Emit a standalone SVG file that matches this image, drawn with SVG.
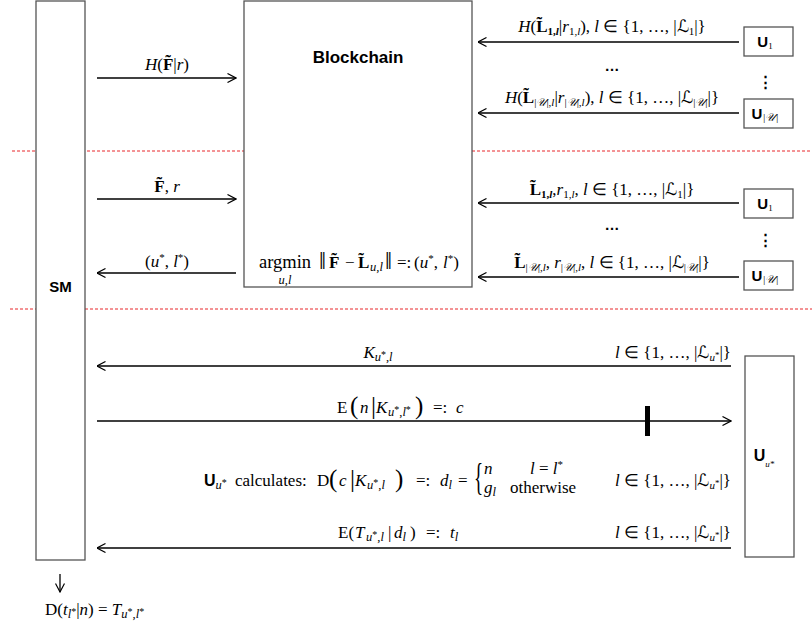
<svg xmlns="http://www.w3.org/2000/svg" width="812" height="629" viewBox="0 0 812 629">
<style>
.box{fill:#fff;stroke:#555;stroke-width:1.3}
.ln{stroke:#000;stroke-width:1.3;fill:none}
.sep{stroke:#e8262b;stroke-width:1;stroke-dasharray:3,2;fill:none}
.hd{font-family:"Liberation Sans",Arial,sans-serif;font-weight:bold;fill:#000}
.m{font-family:"Liberation Serif","Times New Roman",serif;font-size:17px;fill:#000}
.i{font-style:italic}
.b{font-weight:bold}
.s{font-size:11px}
.s2{font-size:12.5px}
.ss{font-size:9px}
.ss2{font-size:10px}
.big{font-size:25px}
</style>
<defs>
<marker id="ah" viewBox="0 0 10 10" refX="9.5" refY="5" markerWidth="10" markerHeight="10" markerUnits="userSpaceOnUse" orient="auto">
<path d="M1,0.5 L9.5,5 L1,9.5" fill="none" stroke="#000" stroke-width="1.2"/>
</marker>
</defs>
<rect width="812" height="629" fill="#fff"/>

<g id="separators">
<line class="sep" x1="12" y1="151" x2="812" y2="151"/>
<line class="sep" x1="10" y1="309" x2="812" y2="309"/>
</g>

<g id="SM">
<rect class="box" x="36" y="1" width="49" height="559"/>
<text class="hd" x="60.5" y="292" font-size="15" text-anchor="middle">SM</text>
</g>

<g id="Blockchain">
<rect class="box" x="244" y="1" width="228" height="286"/>
<text class="hd" x="358" y="63" font-size="17" text-anchor="middle">Blockchain</text>
<text class="m" y="268"><tspan x="259" style="font-size:18.5px">argmin</tspan><tspan x="319" class="big" dy="1">‖</tspan><tspan x="329" class="b" dy="-1">F̃</tspan><tspan x="345">−</tspan><tspan x="358" class="b">L̃</tspan><tspan class="s2 i" x="370" dy="3">u,l</tspan><tspan x="385" class="big" dy="-2">‖</tspan><tspan x="397" dy="-1">=:</tspan><tspan x="414">(</tspan><tspan class="i">u</tspan><tspan class="s" dy="-6">*</tspan><tspan dy="6">,</tspan><tspan x="443" class="i">l</tspan><tspan class="s" dy="-6">*</tspan><tspan dy="6">)</tspan></text>
<text class="m s2 i" x="285" y="284" text-anchor="middle">u,l</text>
</g>

<g id="U1_top">
<rect class="box" x="744" y="27" width="49" height="29"/>
<text x="765" y="47" text-anchor="middle"><tspan class="hd" font-size="15">U</tspan><tspan class="m ss" dy="2">1</tspan></text>
</g>
<g id="dots_top">
<text class="hd" x="765" y="87" font-size="15" text-anchor="middle">⋮</text>
</g>
<g id="UU_top">
<rect class="box" x="744" y="99" width="49" height="29"/>
<text x="765" y="119" text-anchor="middle"><tspan class="hd" font-size="15">U</tspan><tspan class="m s i" dy="2">|𝒰|</tspan></text>
</g>

<g id="U1_mid">
<rect class="box" x="744" y="189" width="49" height="29"/>
<text x="765" y="209" text-anchor="middle"><tspan class="hd" font-size="15">U</tspan><tspan class="m ss" dy="2">1</tspan></text>
</g>
<g id="dots_mid">
<text class="hd" x="765" y="245" font-size="15" text-anchor="middle">⋮</text>
</g>
<g id="UU_mid">
<rect class="box" x="744" y="261" width="49" height="29"/>
<text x="765" y="281" text-anchor="middle"><tspan class="hd" font-size="15">U</tspan><tspan class="m s i" dy="2">|𝒰|</tspan></text>
</g>

<g id="Ustar">
<rect class="box" x="745" y="356" width="49" height="201"/>
<text x="764" y="461" text-anchor="middle"><tspan class="hd" font-size="16">U</tspan><tspan class="m ss i" dy="6">u*</tspan></text>
</g>

<g id="connectors">
<line class="ln" x1="97" y1="78" x2="236" y2="78" marker-end="url(#ah)"/>
<line class="ln" x1="739" y1="42" x2="478" y2="42" marker-end="url(#ah)"/>
<line class="ln" x1="739" y1="113" x2="478" y2="113" marker-end="url(#ah)"/>
<line class="ln" x1="97" y1="199" x2="236" y2="199" marker-end="url(#ah)"/>
<line class="ln" x1="236" y1="273" x2="97" y2="273" marker-end="url(#ah)"/>
<line class="ln" x1="739" y1="203" x2="478" y2="203" marker-end="url(#ah)"/>
<line class="ln" x1="739" y1="277" x2="478" y2="277" marker-end="url(#ah)"/>
<line class="ln" x1="731" y1="366" x2="97" y2="366" marker-end="url(#ah)"/>
<line class="ln" x1="97" y1="421" x2="731" y2="421" marker-end="url(#ah)"/>
<rect x="645" y="406" width="5" height="30" fill="#000"/>
<line class="ln" x1="731" y1="548" x2="97" y2="548" marker-end="url(#ah)"/>
<line class="ln" x1="60" y1="574" x2="60" y2="592" stroke-width="1" marker-end="url(#ah)"/>
</g>

<g id="labels">
<text class="m" x="167" y="70" text-anchor="middle"><tspan class="i">H</tspan>(<tspan class="b">F̃</tspan>|<tspan class="i">r</tspan>)</text>
<text class="m" x="612" y="32" text-anchor="middle"><tspan class="i">H</tspan>(<tspan class="b">L̃</tspan><tspan class="s b" dy="3">1,<tspan class="i">l</tspan></tspan><tspan dy="-3">|</tspan><tspan class="i">r</tspan><tspan class="s" dy="3">1,<tspan class="i">l</tspan></tspan><tspan dy="-3">), </tspan><tspan class="i">l</tspan> ∈ {1, …, |ℒ<tspan class="s" dy="3">1</tspan><tspan dy="-3">|}</tspan></text>
<text class="hd" x="612" y="71" font-size="15" text-anchor="middle">…</text>
<text class="m" x="612" y="103" text-anchor="middle"><tspan class="i">H</tspan>(<tspan class="b">L̃</tspan><tspan class="s" dy="3">|<tspan class="i">𝒰</tspan>|,<tspan class="i">l</tspan></tspan><tspan dy="-3">|</tspan><tspan class="i">r</tspan><tspan class="s" dy="3">|<tspan class="i">𝒰</tspan>|,<tspan class="i">l</tspan></tspan><tspan dy="-3">), </tspan><tspan class="i">l</tspan> ∈ {1, …, |ℒ<tspan class="s" dy="3">|<tspan class="i">𝒰</tspan>|</tspan><tspan dy="-3">|}</tspan></text>

<text class="m" x="167" y="192" text-anchor="middle"><tspan class="b">F̃</tspan>, <tspan class="i">r</tspan></text>
<text class="m" x="167" y="267" text-anchor="middle">(<tspan class="i">u</tspan><tspan class="s" dy="-6">*</tspan><tspan dy="6">, </tspan><tspan class="i">l</tspan><tspan class="s" dy="-6">*</tspan><tspan dy="6">)</tspan></text>
<text class="m" x="612" y="195" text-anchor="middle"><tspan class="b">L̃</tspan><tspan class="s b" dy="3">1,<tspan class="i">l</tspan></tspan><tspan dy="-3">,</tspan><tspan class="i">r</tspan><tspan class="s" dy="3">1,<tspan class="i">l</tspan></tspan><tspan dy="-3">, </tspan><tspan class="i">l</tspan> ∈ {1, …, |ℒ<tspan class="s" dy="3">1</tspan><tspan dy="-3">|}</tspan></text>
<text class="hd" x="612" y="230" font-size="15" text-anchor="middle">…</text>
<text class="m" x="612" y="268" text-anchor="middle"><tspan class="b">L̃</tspan><tspan class="s" dy="3">|<tspan class="i">𝒰</tspan>|,<tspan class="i">l</tspan></tspan><tspan dy="-3">, </tspan><tspan class="i">r</tspan><tspan class="s" dy="3">|<tspan class="i">𝒰</tspan>|,<tspan class="i">l</tspan></tspan><tspan dy="-3">, </tspan><tspan class="i">l</tspan> ∈ {1, …, |ℒ<tspan class="s" dy="3">|<tspan class="i">𝒰</tspan>|</tspan><tspan dy="-3">|}</tspan></text>

<text class="m" x="378" y="358" text-anchor="middle"><tspan class="i">K</tspan><tspan class="s2 i" dy="3">u</tspan><tspan class="ss2" dy="-3">*</tspan><tspan class="s2" dy="3">,<tspan class="i">l</tspan></tspan></text>
<text class="m" x="731" y="358" text-anchor="end"><tspan class="i">l</tspan> ∈ {1, …, |ℒ<tspan class="s i" dy="3">u</tspan><tspan class="ss" dy="-3">*</tspan><tspan dy="0">|}</tspan></text>

<text class="m" y="413"><tspan x="337">E</tspan><tspan class="big" x="350" dy="1">(</tspan><tspan class="i" x="360" dy="-1">n</tspan><tspan class="big" x="371" dy="1">|</tspan><tspan class="i" x="376" dy="-1">K</tspan><tspan class="s2 i" x="388" dy="3">u</tspan><tspan class="ss2" dy="-3">*</tspan><tspan class="s2" dy="3">,<tspan class="i">l</tspan></tspan><tspan class="ss2" dy="-3">*</tspan><tspan class="big" x="415" dy="1">)</tspan><tspan x="433" dy="-1">=:</tspan><tspan class="i" x="456">c</tspan></text>

<text x="204" y="486"><tspan class="hd" font-size="16">U</tspan><tspan class="m s2 i" dy="3">u</tspan><tspan class="m ss2" dy="-3">*</tspan></text>
<text class="m" x="235" y="486">calculates:</text>
<text class="m" y="486"><tspan x="317">D</tspan><tspan class="big" x="329" dy="1">(</tspan><tspan class="i" x="339" dy="-1">c</tspan><tspan class="big" x="350" dy="1">|</tspan><tspan class="i" x="355" dy="-1">K</tspan><tspan class="s2 i" x="367" dy="3">u</tspan><tspan class="ss2" dy="-3">*</tspan><tspan class="s2" dy="3">,<tspan class="i">l</tspan></tspan><tspan class="big" x="395" dy="-2">)</tspan><tspan x="416" dy="-1">=:</tspan><tspan class="i" x="440">d</tspan><tspan class="s2 i" dy="3">l</tspan><tspan x="458" dy="-3">=</tspan></text>
<text class="m" x="0" y="0" style="font-size:38px" transform="translate(474 490) scale(0.5 1)">{</text>
<text class="m i" x="484" y="474">n</text>
<text class="m" x="530" y="474"><tspan class="i">l</tspan> = <tspan class="i">l</tspan><tspan class="s" dy="-6">*</tspan></text>
<text class="m" x="484" y="493"><tspan class="i">g</tspan><tspan class="s2 i" dy="3">l</tspan></text>
<text class="m" x="510" y="493">otherwise</text>
<text class="m" x="731" y="486" text-anchor="end"><tspan class="i">l</tspan> ∈ {1, …, |ℒ<tspan class="s i" dy="3">u</tspan><tspan class="ss" dy="-3">*</tspan><tspan dy="0">|}</tspan></text>

<text class="m" y="538"><tspan x="338">E(</tspan><tspan class="i" x="355">T</tspan><tspan class="s2 i" x="366" dy="3">u</tspan><tspan class="ss2" dy="-3">*</tspan><tspan class="s2" dy="3">,<tspan class="i">l</tspan></tspan><tspan x="388" dy="-3">|</tspan><tspan class="i" x="394">d</tspan><tspan class="s2 i" dy="3">l</tspan><tspan x="410" dy="-3">)</tspan><tspan x="426">=:</tspan><tspan class="i" x="450">t</tspan><tspan class="s2 i" dy="3">l</tspan></text>
<text class="m" x="731" y="538" text-anchor="end"><tspan class="i">l</tspan> ∈ {1, …, |ℒ<tspan class="s i" dy="3">u</tspan><tspan class="ss" dy="-3">*</tspan><tspan dy="0">|}</tspan></text>

<text class="m" x="45" y="615">D(<tspan class="i">t</tspan><tspan class="s2 i" dy="3">l</tspan><tspan class="ss2" dy="-3">*</tspan><tspan dy="0">|</tspan><tspan class="i">n</tspan>) = <tspan class="i">T</tspan><tspan class="s2 i" dy="3">u</tspan><tspan class="ss2" dy="-3">*</tspan><tspan class="s2" dy="3">,<tspan class="i">l</tspan></tspan><tspan class="ss2" dy="-3">*</tspan></text>
</g>
</svg>
